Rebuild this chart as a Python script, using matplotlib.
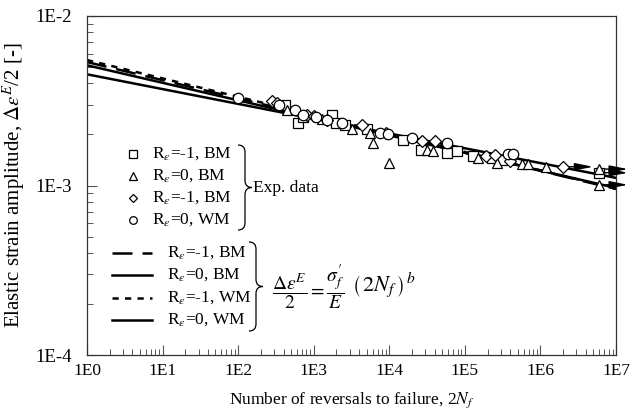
import numpy as np
import matplotlib
matplotlib.use('Agg')
from matplotlib import pyplot as plt
from matplotlib.path import Path
from matplotlib.patches import PathPatch
from matplotlib.ticker import FuncFormatter, LogLocator

plt.rcParams['font.family'] = ['Liberation Serif', 'DejaVu Serif']
plt.rcParams['mathtext.fontset'] = 'stix'

# experimental data (2N_f, elastic strain amplitude)
sq_N = [4.2e2, 6.2e2, 7.2e2, 1.75e3, 2.0e3, 2.6e3, 5.1e3, 1.5e4, 2.6e4, 5.8e4, 7.9e4, 1.3e5, 2.3e5, 3.1e5]
sq_e = [2.97e-3, 2.35e-3, 2.52e-3, 2.62e-3, 2.35e-3, 2.26e-3, 2.14e-3, 1.86e-3, 1.63e-3, 1.56e-3, 1.60e-3, 1.50e-3, 1.46e-3, 1.42e-3]
tri_N = [4.4e2, 1.3e3, 3.2e3, 5.5e3, 6.1e3, 1.0e4, 3.2e4, 3.8e4, 1.5e5, 2.7e5, 5.7e5, 6.9e5, 1.2e6]
tri_e = [2.77e-3, 2.48e-3, 2.14e-3, 2.05e-3, 1.79e-3, 1.36e-3, 1.63e-3, 1.60e-3, 1.46e-3, 1.36e-3, 1.34e-3, 1.34e-3, 1.29e-3]
dia_N = [2.8e2, 3.3e2, 8.2e2, 1.0e3, 1.5e3, 4.4e3, 9.1e3, 2.7e4, 4.0e4, 1.9e5, 2.5e5, 4.0e5]
dia_e = [3.17e-3, 3.05e-3, 2.62e-3, 2.58e-3, 2.45e-3, 2.26e-3, 2.05e-3, 1.84e-3, 1.84e-3, 1.50e-3, 1.52e-3, 1.40e-3]
cir_N = [1.0e2, 3.5e2, 5.6e2, 7.2e2, 1.07e3, 1.5e3, 2.4e3, 7.5e3, 9.6e3, 2.0e4, 5.8e4, 3.7e5, 4.3e5]
cir_e = [3.30e-3, 2.97e-3, 2.77e-3, 2.62e-3, 2.55e-3, 2.45e-3, 2.35e-3, 2.05e-3, 2.02e-3, 1.91e-3, 1.79e-3, 1.54e-3, 1.54e-3]

# run-outs (marker, 2N_f, strain, arrow tip)
run_mk = ['s', '^', '^', 'D']
run_N = [6.0e6, 6.0e6, 6.0e6, 2.0e6]
run_e = [1.19e-3, 1.25e-3, 1.01e-3, 1.29e-3]
run_tip = [1.44e7, 1.44e7, 1.44e7, 5.0e6]

# Basquin fits: sigma_f'/E and b
fit_A = [5.35e-3, 5.12e-3, 5.50e-3, 4.53e-3]
fit_b = [-0.1070, -0.1034, -0.1085, -0.0873]
fit_ls = [(0, (8, 4)), '-', (0, (2.5, 2.5)), '-']
fit_lab = [r'R$_\varepsilon$=-1, BM', r'R$_\varepsilon$=0, BM', r'R$_\varepsilon$=-1, WM', r'R$_\varepsilon$=0, WM']
exp_lab = [r'R$_\varepsilon$=-1, BM', r'R$_\varepsilon$=0, BM', r'R$_\varepsilon$=-1, BM', r'R$_\varepsilon$=0, WM']
exp_mk = ['s', '^', 'D', 'o']

W, H = 633, 412
fig = plt.figure(figsize=(W / 100, H / 100), dpi=100)
ax = fig.add_axes([87 / W, 1 - 355 / H, (616 - 87) / W, (355 - 16) / H])

N = np.logspace(0, 7, 200)
for A, b, ls in zip(fit_A, fit_b, fit_ls):
    ax.plot(N, A * N ** b, color='k', lw=1.8, ls=ls, zorder=2)

mk = dict(ls='none', mfc='white', mec='k', mew=0.9, ms=7, zorder=3)
ax.plot(sq_N, sq_e, marker='s', **mk)
ax.plot(tri_N, tri_e, marker='^', **dict(mk, ms=7.5))
ax.plot(dia_N, dia_e, marker='D', **dict(mk, ms=6))
ax.plot(cir_N, cir_e, marker='o', **dict(mk, ms=7.5))

for m, n, e, t in zip(run_mk, run_N, run_e, run_tip):
    ax.annotate('', xy=(t, e), xytext=(n, e), annotation_clip=False,
                arrowprops=dict(arrowstyle='-|>,head_length=1.1,head_width=0.22', color='k',
                                lw=1.0, shrinkA=3, shrinkB=0))
    ax.plot([n], [e], marker=m, **dict(mk, ms=6 if m == 'D' else 7.5, zorder=4))

ax.set_xscale('log')
ax.set_yscale('log')
ax.set_xlim(1, 1e7)
ax.set_ylim(1e-4, 1e-2)
fmt = FuncFormatter(lambda v, p: '1E%d' % int(round(np.log10(v))))
ax.xaxis.set_major_formatter(fmt)
ax.yaxis.set_major_formatter(fmt)
ax.xaxis.set_minor_locator(LogLocator(base=10, subs=np.arange(2, 10)))
ax.yaxis.set_minor_locator(LogLocator(base=10, subs=np.arange(2, 10)))
ax.xaxis.set_minor_formatter(plt.NullFormatter())
ax.yaxis.set_minor_formatter(plt.NullFormatter())
ax.tick_params(which='both', direction='in', top=False, right=False, color='#555555')
ax.tick_params(which='major', length=7, width=0.8)
ax.tick_params(which='minor', length=4, width=0.7)
ax.tick_params(axis='x', labelsize=12.5, pad=6)
ax.tick_params(axis='y', labelsize=13.5, pad=11)
for s in ax.spines.values():
    s.set_linewidth(0.9)
    s.set_color('#333333')

ax.set_xlabel(r'Number of reversals to failure, 2$N_f$', fontsize=12.5, labelpad=8)
ax.set_ylabel(r'Elastic strain amplitude, $\mathit{\Delta\varepsilon^E}$/2 [-]', fontsize=15)
ax.yaxis.set_label_coords(-0.112, 0.5)

# hand-made legend
tf = fig.transFigure
def px(x, y):
    return x / W, 1 - y / H

rows1 = [154, 176, 198, 220]
for m, lab, y in zip(exp_mk, exp_lab, rows1):
    ax.plot(*px(133, y), marker=m, transform=tf, clip_on=False,
            **dict(mk, ms=4.5 if m == 'D' else 5.5))
    fig.text(*px(152, y), lab, fontsize=12.5, va='center', ha='left')

rows2 = [253, 275, 298, 320]
for ls, lab, y in zip(fit_ls, fit_lab, rows2):
    x0, y0 = px(112, y)
    x1, _ = px(152, y)
    ax.plot([x0, x1], [y0, y0], color='k', lw=1.8, ls=ls, transform=tf, clip_on=False)
    fig.text(*px(167, y), lab, fontsize=12.5, va='center', ha='left')

def brace(x, yt, yb, w):
    xm = x + w / 2
    ym = (yt + yb) / 2
    r = w / 2
    pts = [(x, yt), (xm, yt), (xm, yt + r), (xm, ym - r), (xm, ym), (x + w, ym),
           (xm, ym), (xm, ym + r), (xm, yb - r), (xm, yb), (x, yb)]
    codes = [Path.MOVETO, Path.CURVE3, Path.CURVE3, Path.LINETO, Path.CURVE3, Path.CURVE3,
             Path.CURVE3, Path.CURVE3, Path.LINETO, Path.CURVE3, Path.CURVE3]
    pts = [px(a, b) for a, b in pts]
    fig.add_artist(PathPatch(Path(pts, codes), fc='none', ec='k', lw=0.9, transform=tf))

brace(238, 145, 230, 14)
fig.text(*px(253, 188), 'Exp. data', fontsize=12.5, va='center', ha='left')
brace(249, 242, 331, 14)
fig.text(*px(272, 287), r'$\dfrac{\mathit{\Delta\varepsilon}^{\mathit{E}}}{2}=\dfrac{\sigma^{\prime}_{f}}{E}$',
         fontsize=14, va='center', ha='left')
fig.text(*px(352, 285), r'$\left(\,2N_{f}\,\right)^{\,b}$', fontsize=16, va='center', ha='left')

fig.savefig('out.png', dpi=100)
